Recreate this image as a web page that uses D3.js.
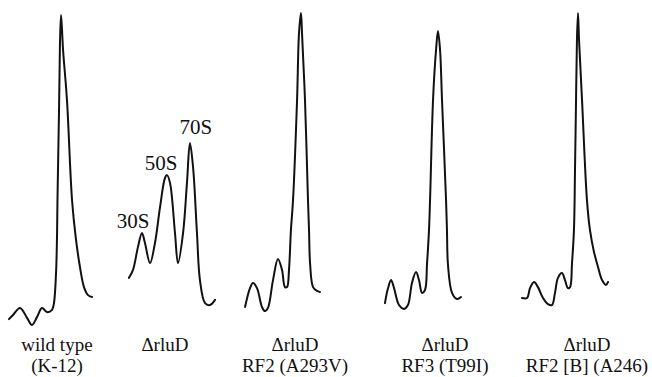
<!DOCTYPE html>
<html>
<head>
<meta charset="utf-8">
<script src="https://cdn.jsdelivr.net/npm/d3@7"></script>
<style>
  html, body { margin: 0; padding: 0; background: #fff; }
  svg { display: block; }
  text { font-family: "Liberation Serif", "Times New Roman", serif; fill: #111; }
</style>
</head>
<body>
<svg id="chart" width="652" height="377"></svg>
<script>
// profile traces: [gradient position, absorbance]
const wildType = [
  [14.6, 3.4], [17.7, 4.7], [23.1, 6.9], [28.5, 3.8], [32.3, 1.6], [36.2, 4.1],
  [40.0, 6.9], [43.8, 5.6], [47.7, 6.3], [49.2, 8.4], [50.8, 17.8], [51.5, 28.1],
  [51.9, 40.6], [53.1, 68.8], [53.8, 89.1], [54.6, 98.4], [55.4, 93.8], [56.2, 87.5],
  [59.2, 71.9], [63.1, 40.6], [66.2, 28.1], [69.2, 19.7], [72.3, 13.4], [75.4, 10.9],
  [78.5, 10.3]
];
const rluD = [
  [6.9, 16.3], [10.0, 18.8], [13.8, 25.9], [16.9, 30.3], [19.2, 27.2], [23.1, 20.9],
  [26.9, 27.2], [30.8, 38.4], [34.6, 47.5], [36.2, 48.4], [38.5, 45.9], [42.3, 30.3],
  [44.6, 20.9], [48.5, 30.3], [51.5, 45.9], [53.8, 58.4], [56.2, 50.9], [59.2, 30.3],
  [61.5, 15.6], [65.4, 8.4], [69.2, 7.8], [73.1, 9.4]
];
const rluDRF2 = [
  [-3.8, 7.2], [0.0, 13.1], [2.3, 14.7], [5.4, 13.1], [9.2, 7.2], [11.5, 5.9],
  [13.8, 6.9], [17.7, 15.6], [21.5, 22.2], [24.6, 18.8], [26.9, 13.4], [28.5, 13.4],
  [30.0, 18.8], [31.5, 31.3], [33.1, 40.6], [36.2, 71.9], [37.7, 92.8], [39.2, 99.1],
  [40.0, 92.8], [42.3, 71.9], [44.6, 40.6], [45.4, 31.3], [46.2, 20.9], [48.5, 13.4],
  [51.5, 12.2], [53.8, 11.9]
];
const rluDRF3 = [
  [3.8, 8.4], [6.2, 13.1], [8.5, 15.6], [10.8, 13.1], [14.6, 7.8], [18.5, 6.6],
  [21.5, 7.8], [24.6, 14.7], [27.7, 18.1], [30.0, 15.6], [32.3, 11.6], [34.6, 12.5],
  [36.2, 20.9], [37.7, 31.3], [38.5, 40.6], [40.8, 71.9], [43.1, 87.5], [44.6, 93.4],
  [46.2, 87.5], [47.7, 71.9], [50.8, 40.6], [51.5, 31.3], [52.3, 20.3], [55.4, 11.6],
  [59.2, 9.7], [62.3, 10.3]
];
const rluDRF2B = [
  [9.2, 10.0], [13.1, 10.0], [15.4, 13.1], [18.5, 15.0], [21.5, 13.4], [25.4, 10.0],
  [29.2, 8.1], [32.3, 7.8], [34.6, 11.6], [36.9, 16.3], [40.0, 17.8], [42.3, 15.6],
  [44.6, 13.1], [46.2, 13.4], [47.7, 20.9], [49.2, 31.3], [50.0, 50.0], [50.8, 71.9],
  [51.5, 90.6], [52.3, 99.1], [53.1, 90.6], [55.4, 71.9], [59.2, 40.6], [61.5, 31.3],
  [64.6, 24.4], [67.7, 19.7], [70.8, 15.6], [73.8, 14.1], [75.4, 15.0]
];

const profiles = [wildType, rluD, rluDRF2, rluDRF3, rluDRF2B];
const panelLabels = [
  ["wild type", "(K-12)"],
  ["\u0394rluD"],
  ["\u0394rluD", "RF2 (A293V)"],
  ["\u0394rluD", "RF3 (T99I)"],
  ["\u0394rluD", "RF2 [B] (A246)"]
];
const peakNames = ["30S", "50S", "70S"];

const svg = d3.select("#chart");

const panel = d3.scaleBand()
  .domain(d3.range(profiles.length))
  .range([-10, 640]);

const x = d3.scaleLinear().domain([0, 100]).range([0, panel.bandwidth()]);
const y = d3.scaleLinear().domain([0, 100]).range([330, 10]);

const line = d3.line()
  .x(d => x(d[0]))
  .y(d => y(d[1]))
  .curve(d3.curveCatmullRom.alpha(0.5));

const g = svg.selectAll("g.panel")
  .data(profiles)
  .enter()
  .append("g")
  .attr("class", "panel")
  .attr("transform", (d, i) => "translate(" + panel(i) + ",0)");

g.append("path")
  .attr("d", d => line(d))
  .attr("fill", "none")
  .attr("stroke", "#111")
  .attr("stroke-width", 2)
  .attr("stroke-linejoin", "round")
  .attr("stroke-linecap", "round");

// labels under each trace, placed relative to its main peak
const labelDx = [-4, -25, -6, 7, 9];
g.each(function(d, i) {
  const top = d[d3.greatestIndex(d, p => p[1])];
  const cx = x(top[0]) + labelDx[i];
  const t = d3.select(this).append("text")
    .attr("text-anchor", "middle")
    .attr("font-size", 19)
    .attr("x", cx)
    .attr("y", 351);
  panelLabels[i].forEach((s, k) => {
    t.append("tspan")
      .attr("x", cx)
      .attr("dy", k === 0 ? 0 : 21)
      .text(s);
  });
});

// peak names on the ΔrluD trace
const peaks = rluD.filter((p, i) => i > 0 && i < rluD.length - 1 &&
  p[1] > rluD[i - 1][1] && p[1] > rluD[i + 1][1]);
const peakDx = [-9, -6, 6];
const peakDy = [-5, -5, -9];

svg.append("g")
  .attr("transform", "translate(" + panel(1) + ",0)")
  .selectAll("text")
  .data(peaks)
  .enter()
  .append("text")
  .attr("text-anchor", "middle")
  .attr("font-size", 21)
  .attr("x", (d, i) => x(d[0]) + peakDx[i])
  .attr("y", (d, i) => y(d[1]) + peakDy[i])
  .text((d, i) => peakNames[i]);
</script>
</body>
</html>
